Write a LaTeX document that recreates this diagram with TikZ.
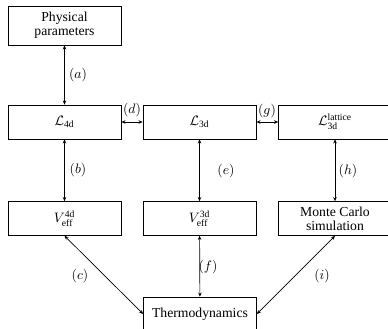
\documentclass[tikz,border=0pt]{standalone}
\usepackage{fontspec}
\setmainfont{Liberation Serif}
\usetikzlibrary{arrows.meta}
\begin{document}
\begin{tikzpicture}[x=0.73pt,y=-0.73pt,
  box/.style={draw,line width=0.5pt,rectangle,minimum width=82.5pt,minimum height=24.8pt,inner sep=1pt,align=center,font=\rmfamily\fontsize{10}{11}\selectfont},
  conn/.style={line width=0.5pt,{Stealth[length=3pt,width=2.6pt]}-{Stealth[length=3pt,width=2.6pt]}},
  lab/.style={font=\rmfamily\fontsize{10}{11}\selectfont,inner sep=0pt}]
\useasboundingbox (0,0) rectangle (388,329);
\node[box,minimum height=28.5pt] (pp) at (64.5,25.5) {Physical\\[-1pt]parameters};
\node[box] (l4) at (64.5,122) {$\mathcal{L}_{\mathrm{4d}}$};
\node[box] (l3) at (199.5,122) {$\mathcal{L}_{\mathrm{3d}}$};
\node[box] (ll) at (335,122) {$\mathcal{L}_{\mathrm{3d}}^{\mathrm{lattice}}$};
\node[box] (v4) at (64.5,218.5) {$V_{\mathrm{eff}}^{\mathrm{4d}}$};
\node[box] (v3) at (199.5,218.5) {$V_{\mathrm{eff}}^{\mathrm{3d}}$};
\node[box] (mc) at (335,218.5) {Monte Carlo\\[-1pt]simulation};
\node[box] (th) at (200,314) {Thermodynamics};
\draw[conn] (pp) -- (l4);
\draw[conn] (l4) -- (l3);
\draw[conn] (l3) -- (ll);
\draw[conn] (l4) -- (v4);
\draw[conn] (l3) -- (v3);
\draw[conn] (ll) -- (mc);
\draw[conn] (v4.south) -- (th.west);
\draw[conn] (v3) -- (th);
\draw[conn] (mc.south) -- (th.east);
\node[lab] (la) at (78,75) {$(a)$};
\node[lab] (lb) at (78,170.5) {$(b)$};
\node[lab] (lc) at (80,276) {$(c)$};
\node[lab] (ld) at (132,110) {$(d)$};
\node[lab] (le) at (226,171) {$(e)$};
\node[lab] (lf) at (208,267) {$(f)$};
\node[lab] (lg) at (267,111) {$(g)$};
\node[lab] (lh) at (348,171) {$(h)$};
\node[lab] (li) at (322,276) {$(i)$};
\end{tikzpicture}
\end{document}
